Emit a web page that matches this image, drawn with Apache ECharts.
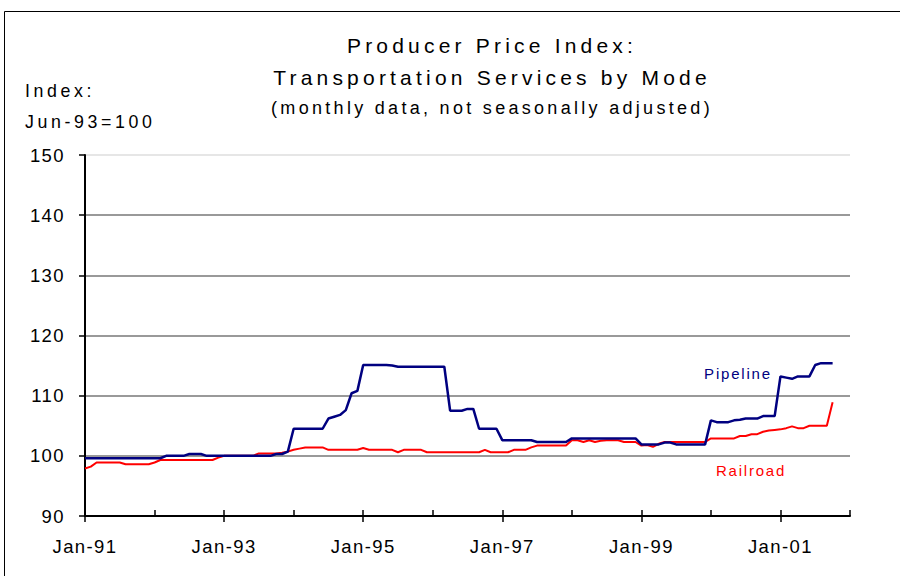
<!DOCTYPE html>
<html>
<head>
<meta charset="utf-8">
<title>Producer Price Index: Transportation Services by Mode</title>
<script src="https://cdn.jsdelivr.net/npm/echarts@6/dist/echarts.min.js"></script>
<style>
  html, body { margin: 0; padding: 0; background: #fff; }
  #chart { width: 900px; height: 576px; }
  /* spaced-out lettering, keyed on font size */
  #chart text[style*="21px"] { letter-spacing: 4.2px; }
  #chart text[style*="18px"] { letter-spacing: 3.3px; }
  #chart text[style*="17.8px"] { letter-spacing: 3.6px; }
  #chart text[style*="18.5px"] { letter-spacing: 1.4px; }
  #chart text[style*="15px"] { letter-spacing: 1.8px; }
</style>
</head>
<body>
<div id="chart"></div>
<script>
// Monthly index values, Jun-93 = 100, one row per year (Jan..Dec)
const pipeline = [
  99.6, 99.6, 99.6, 99.6, 99.6, 99.6, 99.6, 99.6, 99.6, 99.6, 99.6, 99.6,              // 1991
  99.6, 99.6, 100.0, 100.0, 100.0, 100.0, 100.3, 100.3, 100.3, 100.0, 100.0, 100.0,    // 1992
  100.0, 100.0, 100.0, 100.0, 100.0, 100.0, 100.0, 100.0, 100.0, 100.3, 100.3, 100.7,  // 1993
  104.5, 104.5, 104.5, 104.5, 104.5, 104.5, 106.2, 106.5, 106.8, 107.6, 110.4, 110.8,  // 1994
  115.1, 115.1, 115.1, 115.1, 115.1, 115.0, 114.8, 114.8, 114.8, 114.8, 114.8, 114.8,  // 1995
  114.8, 114.8, 114.8, 107.5, 107.5, 107.5, 107.8, 107.8, 104.5, 104.5, 104.5, 104.5,  // 1996
  102.6, 102.6, 102.6, 102.6, 102.6, 102.6, 102.3, 102.3, 102.3, 102.3, 102.3, 102.3,  // 1997
  102.9, 102.9, 102.9, 102.9, 102.9, 102.9, 102.9, 102.9, 102.9, 102.9, 102.9, 102.9,  // 1998
  101.9, 101.9, 101.9, 101.9, 102.2, 102.2, 101.9, 101.9, 101.9, 101.9, 101.9, 101.9,  // 1999
  105.9, 105.6, 105.6, 105.6, 105.9, 106.0, 106.2, 106.2, 106.2, 106.6, 106.6, 106.6,  // 2000
  113.2, 113.0, 112.8, 113.2, 113.2, 113.2, 115.1, 115.4, 115.4, 115.4                 // 2001
];

const railroad = [
  97.9, 98.2, 98.9, 98.9, 98.9, 98.9, 98.9, 98.6, 98.6, 98.6, 98.6, 98.6,              // 1991
  98.9, 99.3, 99.3, 99.3, 99.3, 99.3, 99.3, 99.3, 99.3, 99.3, 99.3, 99.7,              // 1992
  100.0, 100.0, 100.0, 100.0, 100.0, 100.0, 100.4, 100.4, 100.4, 100.4, 100.5, 100.7,  // 1993
  101.0, 101.2, 101.4, 101.4, 101.4, 101.4, 101.0, 101.0, 101.0, 101.0, 101.0, 101.0,  // 1994
  101.3, 101.0, 101.0, 101.0, 101.0, 101.0, 100.6, 101.0, 101.0, 101.0, 101.0, 100.6,  // 1995
  100.6, 100.6, 100.6, 100.6, 100.6, 100.6, 100.6, 100.6, 100.6, 101.0, 100.6, 100.6,  // 1996
  100.6, 100.6, 101.0, 101.0, 101.0, 101.4, 101.7, 101.7, 101.7, 101.7, 101.7, 101.7,  // 1997
  102.6, 102.6, 102.3, 102.6, 102.3, 102.5, 102.6, 102.6, 102.6, 102.3, 102.3, 102.3,  // 1998
  101.7, 101.8, 101.5, 102.0, 102.3, 102.3, 102.3, 102.3, 102.3, 102.3, 102.3, 102.3,  // 1999
  102.9, 102.9, 102.9, 102.9, 102.9, 103.3, 103.3, 103.6, 103.6, 104.0, 104.2, 104.3,  // 2000
  104.4, 104.6, 104.9, 104.6, 104.6, 105.0, 105.0, 105.0, 105.0, 108.9                 // 2001
];

// Month categories Jan-91 .. Jan-02
const monthNames = ['Jan','Feb','Mar','Apr','May','Jun','Jul','Aug','Sep','Oct','Nov','Dec'];
const months = [];
for (let y = 1991; y <= 2002; y++) {
  for (let m = 0; m < 12; m++) {
    if (y === 2002 && m > 0) break;
    months.push(monthNames[m] + '-' + String(y % 100).padStart(2, '0'));
  }
}

// Value axis
const yMin = 90, yMax = 150, yStep = 10;

const FONT = '"Liberation Sans", Arial, Helvetica, sans-serif';
const NAVY = '#000080';
const RED = '#ff0000';

const chart = echarts.init(document.getElementById('chart'), null, { renderer: 'svg' });

chart.setOption({
  animation: false,
  backgroundColor: '#fff',
  grid: { left: 85, right: 50, top: 155, bottom: 60, containLabel: false },
  xAxis: [
    {
      type: 'category',
      data: months,
      position: 'bottom',
      boundaryGap: false,
      axisLine: { show: true, lineStyle: { color: '#000', width: 2 } },
      axisTick: {
        show: true,
        inside: true,
        length: 6,
        interval: (i) => i % 12 === 0,
        lineStyle: { color: '#000', width: 1.5 }
      },
      axisLabel: {
        interval: (i) => i % 24 === 0,
        color: '#000',
        fontSize: 18.5,
        fontFamily: FONT,
        margin: 21
      },
      splitLine: { show: false }
    },
    {
      // outer half of the cross ticks on every other January
      type: 'category',
      data: months,
      position: 'bottom',
      boundaryGap: false,
      axisLine: { show: false },
      axisTick: {
        show: true,
        inside: false,
        length: 6,
        interval: (i) => i % 24 === 0,
        lineStyle: { color: '#000', width: 1.5 }
      },
      axisLabel: { show: false },
      splitLine: { show: false }
    }
  ],
  yAxis: {
    type: 'value',
    min: yMin,
    max: yMax,
    interval: yStep,
    axisLine: { show: true, lineStyle: { color: '#000', width: 2 } },
    axisTick: { show: true, inside: false, length: 6, lineStyle: { color: '#000', width: 1.5 } },
    axisLabel: { color: '#000', fontSize: 18.5, fontFamily: FONT, margin: 20 },
    splitLine: {
      show: true,
      lineStyle: {
        color: ['#999', '#999', '#999', '#999', '#999', '#999', '#e6e6e6'],
        width: 2
      }
    }
  },
  series: [
    {
      name: 'Railroad',
      type: 'line',
      data: railroad,
      xAxisIndex: 0,
      showSymbol: false,
      symbol: 'none',
      lineStyle: { color: RED, width: 2 },
      itemStyle: { color: RED },
      z: 3
    },
    {
      name: 'Pipeline',
      type: 'line',
      data: pipeline,
      xAxisIndex: 0,
      showSymbol: false,
      symbol: 'none',
      lineStyle: { color: NAVY, width: 2.5 },
      itemStyle: { color: NAVY },
      z: 4
    }
  ],
  graphic: [
    {
      type: 'polyline',
      silent: true,
      shape: { points: [[4.5, 576], [4.5, 11.5], [900, 11.5]] },
      style: { stroke: '#000', lineWidth: 1, fill: null }
    },
    {
      type: 'text', x: 492, y: 45, silent: true,
      style: { text: 'Producer Price Index:', fontSize: 21, fontFamily: FONT, fill: '#000',
               align: 'center', verticalAlign: 'middle', textAlign: 'center', textVerticalAlign: 'middle' }
    },
    {
      type: 'text', x: 492, y: 77, silent: true,
      style: { text: 'Transportation Services by Mode', fontSize: 21, fontFamily: FONT, fill: '#000',
               align: 'center', verticalAlign: 'middle', textAlign: 'center', textVerticalAlign: 'middle' }
    },
    {
      type: 'text', x: 492, y: 108, silent: true,
      style: { text: '(monthly data, not seasonally adjusted)', fontSize: 18, fontFamily: FONT, fill: '#000',
               align: 'center', verticalAlign: 'middle', textAlign: 'center', textVerticalAlign: 'middle' }
    },
    {
      type: 'text', x: 25, y: 91, silent: true,
      style: { text: 'Index:', fontSize: 17.8, fontFamily: FONT, fill: '#000',
               align: 'left', verticalAlign: 'middle', textAlign: 'left', textVerticalAlign: 'middle' }
    },
    {
      type: 'text', x: 25, y: 122, silent: true,
      style: { text: 'Jun-93=100', fontSize: 17.8, fontFamily: FONT, fill: '#000',
               align: 'left', verticalAlign: 'middle', textAlign: 'left', textVerticalAlign: 'middle' }
    },
    {
      type: 'text', x: 738, y: 373, silent: true,
      style: { text: 'Pipeline', fontSize: 15, fontFamily: FONT, fill: NAVY,
               align: 'center', verticalAlign: 'middle', textAlign: 'center', textVerticalAlign: 'middle' }
    },
    {
      type: 'text', x: 751, y: 470, silent: true,
      style: { text: 'Railroad', fontSize: 15, fontFamily: FONT, fill: RED,
               align: 'center', verticalAlign: 'middle', textAlign: 'center', textVerticalAlign: 'middle' }
    }
  ]
});
</script>
</body>
</html>
